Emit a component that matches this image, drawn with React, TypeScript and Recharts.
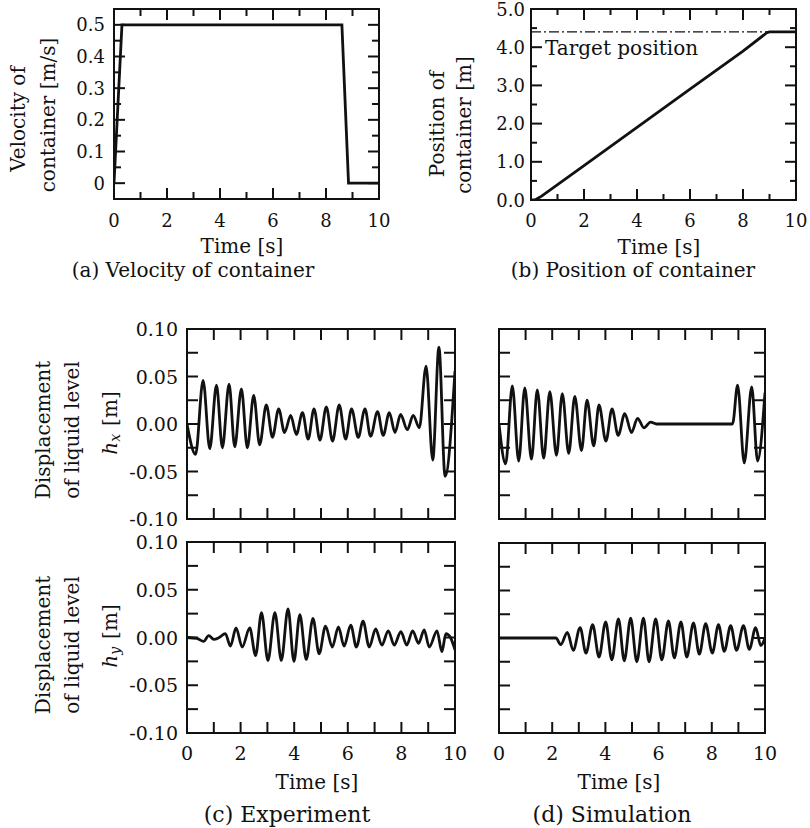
import { LineChart, Line, XAxis, YAxis, ReferenceArea, ReferenceLine } from 'recharts';

// time axis, shared by all six panels
const timeTicks = [0, 1, 2, 3, 4, 5, 6, 7, 8, 9, 10];

// (a) velocity of container [m/s]
const velocityTime = [0, 0.3, 8.6, 8.85, 10];
const velocityValue = [0, 0.5, 0.5, 0, 0];
const velocityTicks = [0, 0.05, 0.1, 0.15, 0.2, 0.25, 0.3, 0.35, 0.4, 0.45, 0.5];

// (b) position of container [m]
const positionTime = [0, 0.15, 0.4, 2, 4, 6, 8, 8.9, 9.0, 10];
const positionValue = [0, 0, 0.1, 0.9, 1.9, 2.9, 3.9, 4.38, 4.4, 4.4];
const targetPosition = 4.4;
const positionTicks = [0, 0.5, 1, 1.5, 2, 2.5, 3, 3.5, 4, 4.5, 5];

// liquid level axis
const levelTicks = [-0.1, -0.075, -0.05, -0.025, 0, 0.025, 0.05, 0.075, 0.1];

// (c) experiment, hx
const hxExpTime = [
  0, 0.32, 0.6, 0.85, 1.1, 1.32, 1.57, 1.78, 2.03, 2.25, 2.49, 2.71, 2.96, 3.19, 3.42, 3.64,
  3.87, 4.08, 4.31, 4.52, 4.74, 4.96, 5.2, 5.43, 5.68, 5.92, 6.14, 6.39, 6.64, 6.85, 7.11,
  7.32, 7.55, 7.76, 7.97, 8.22, 8.44, 8.67, 8.92, 9.17, 9.4, 9.63, 10,
];
const hxExpValue = [
  0, -0.032, 0.046, -0.026, 0.041, -0.025, 0.042, -0.024, 0.037, -0.025, 0.03, -0.022, 0.02,
  -0.014, 0.016, -0.009, 0.009, -0.011, 0.012, -0.016, 0.016, -0.017, 0.018, -0.018, 0.02,
  -0.016, 0.016, -0.014, 0.016, -0.013, 0.013, -0.012, 0.012, -0.009, 0.01, -0.006, 0.009,
  -0.004, 0.061, -0.038, 0.081, -0.055, 0.056,
];

// (c) experiment, hy
const hyExpTime = [
  0, 0.37, 0.62, 0.81, 1.0, 1.2, 1.43, 1.62, 1.83, 2.06, 2.34, 2.56, 2.78, 3.02, 3.28, 3.52,
  3.77, 3.99, 4.21, 4.45, 4.7, 4.93, 5.17, 5.42, 5.65, 5.86, 6.11, 6.32, 6.57, 6.8, 7.04, 7.27,
  7.51, 7.73, 7.98, 8.2, 8.42, 8.64, 8.85, 9.04, 9.33, 9.51, 9.66, 9.83, 10,
];
const hyExpValue = [
  0, -0.001, -0.004, 0.002, -0.002, 0.0, 0.004, -0.009, 0.01, -0.01, 0.01, -0.019, 0.026,
  -0.024, 0.026, -0.024, 0.03, -0.025, 0.024, -0.023, 0.02, -0.017, 0.012, -0.01, 0.011,
  -0.009, 0.013, -0.01, 0.017, -0.01, 0.009, -0.008, 0.007, -0.008, 0.006, -0.008, 0.007,
  -0.006, 0.008, -0.01, 0.007, -0.015, 0.004, 0.0, -0.013,
];

// (d) simulation, hx
const hxSimTime = [
  0, 0.25, 0.5, 0.74, 0.97, 1.22, 1.44, 1.68, 1.91, 2.16, 2.38, 2.62, 2.85, 3.1, 3.31, 3.56,
  3.76, 4.02, 4.25, 4.48, 4.73, 4.98, 5.21, 5.45, 5.7, 5.92, 8.78, 8.97, 9.22, 9.5, 9.72, 10,
];
const hxSimValue = [
  0, -0.042, 0.04, -0.039, 0.038, -0.037, 0.036, -0.036, 0.034, -0.033, 0.032, -0.031, 0.029,
  -0.028, 0.025, -0.023, 0.02, -0.018, 0.016, -0.012, 0.011, -0.009, 0.006, -0.004, 0.002, 0,
  0, 0.041, -0.041, 0.039, -0.039, 0.033,
];

// (d) simulation, hy
const hySimTime = [
  0, 2.14, 2.32, 2.57, 2.79, 3.05, 3.27, 3.52, 3.76, 4.01, 4.24, 4.49, 4.71, 4.95, 5.18, 5.43,
  5.64, 5.89, 6.12, 6.37, 6.59, 6.84, 7.06, 7.31, 7.53, 7.77, 8.02, 8.25, 8.47, 8.71, 8.93,
  9.19, 9.41, 9.65, 9.84, 10,
];
const hySimValue = [
  0, 0, -0.007, 0.006, -0.013, 0.011, -0.016, 0.014, -0.02, 0.017, -0.023, 0.02, -0.024, 0.021,
  -0.025, 0.021, -0.025, 0.02, -0.023, 0.018, -0.021, 0.017, -0.02, 0.016, -0.017, 0.015,
  -0.016, 0.014, -0.014, 0.013, -0.013, 0.013, -0.012, 0.011, -0.008, 0.0,
];

const zip = (t: number[], v: number[]) => t.map((x, i) => ({ t: x, v: v[i] }));

const FONT = '"DejaVu Serif", serif';
const INK = '#111';
const PAD_L = 80;
const PAD_R = 12;
const PAD_T = 14;
const PAD_B = 36;

type Box = { x0: number; y0: number; x1: number; y1: number };

type PanelProps = {
  box: Box;
  rows: { t: number; v: number }[];
  curve: 'linear' | 'monotone';
  yDomain: [number, number];
  yTicks: number[];
  yMajor: (v: number) => boolean;
  yFormat: (v: number) => string;
  showX: boolean;
  showY: boolean;
  majorLen: number;
  minorLen: number;
  xGap: number;
  yGap: number;
  fontSize: number;
  target?: number;
};

function Panel(p: PanelProps) {
  const plotW = p.box.x1 - p.box.x0;
  const plotH = p.box.y1 - p.box.y0;
  const xMajor = (v: number) => Math.round(v) % 2 === 0;

  const xTick = (props: any) => {
    const { x, y, payload } = props;
    const v = payload.value;
    const len = xMajor(v) ? p.majorLen : p.minorLen;
    return (
      <g>
        <line x1={x} x2={x} y1={y} y2={y - len} stroke={INK} strokeWidth={2} />
        <line x1={x} x2={x} y1={y - plotH} y2={y - plotH + len} stroke={INK} strokeWidth={2} />
        {p.showX && xMajor(v) && (
          <text x={x} y={y + p.xGap} textAnchor='middle' dominantBaseline='central'
            fontSize={p.fontSize} fontFamily={FONT} fill={INK}>
            {v}
          </text>
        )}
      </g>
    );
  };

  const yTick = (props: any) => {
    const { x, y, payload } = props;
    const v = payload.value;
    const len = p.yMajor(v) ? p.majorLen : p.minorLen;
    return (
      <g>
        <line x1={x} x2={x + len} y1={y} y2={y} stroke={INK} strokeWidth={2} />
        <line x1={x + plotW} x2={x + plotW - len} y1={y} y2={y} stroke={INK} strokeWidth={2} />
        {p.showY && p.yMajor(v) && (
          <text x={x - p.yGap} y={y} textAnchor='end' dominantBaseline='central'
            fontSize={p.fontSize} fontFamily={FONT} fill={INK}>
            {p.yFormat(v)}
          </text>
        )}
      </g>
    );
  };

  return (
    <div style={{ position: 'absolute', left: p.box.x0 - PAD_L, top: p.box.y0 - PAD_T }}>
      <LineChart
        width={plotW + PAD_L + PAD_R}
        height={plotH + PAD_T + PAD_B}
        data={p.rows}
        margin={{ top: PAD_T, right: PAD_R, bottom: 0, left: 0 }}
      >
        <XAxis dataKey='t' type='number' domain={[0, 10]} ticks={timeTicks} interval={0}
          height={PAD_B} axisLine={false} tickLine={false} tickSize={0} tickMargin={0}
          tick={xTick} allowDataOverflow />
        <YAxis type='number' domain={p.yDomain} ticks={p.yTicks} interval={0}
          width={PAD_L} axisLine={false} tickLine={false} tickSize={0} tickMargin={0}
          tick={yTick} allowDataOverflow />
        {p.target !== undefined && (
          <ReferenceLine y={p.target} stroke={INK} strokeWidth={1.3} strokeDasharray='10 3 2 3' />
        )}
        <Line type={p.curve} dataKey='v' stroke={INK} strokeWidth={2.8} dot={false}
          isAnimationActive={false} />
        <ReferenceArea x1={0} x2={10} y1={p.yDomain[0]} y2={p.yDomain[1]} fill='none'
          fillOpacity={0} stroke={INK} strokeWidth={2} ifOverflow='visible' />
      </LineChart>
    </div>
  );
}

function Txt({ x, y, children, rotate, size = 20, anchor = 'middle' }: any) {
  return (
    <text x={x} y={y} textAnchor={anchor} dominantBaseline='central' fontSize={size}
      fontFamily={FONT} fill={INK} transform={rotate ? `rotate(-90 ${x} ${y})` : undefined}>
      {children}
    </text>
  );
}

function HLabel({ x, y, sub }: { x: number; y: number; sub: string }) {
  return (
    <text x={x} y={y} textAnchor='middle' dominantBaseline='central' fontSize={20}
      fontFamily={FONT} fill={INK} transform={`rotate(-90 ${x} ${y})`}>
      <tspan fontStyle='italic'>h</tspan>
      <tspan fontSize={14} fontStyle='italic' dy={5}>{sub}</tspan>
      <tspan dy={-5} dx={8}>[m]</tspan>
    </text>
  );
}

const fmtLevel = (v: number) => v.toFixed(2);
const levelMajor = (v: number) => Math.abs(Math.round(v * 1000) % 50) === 0;

export default function App() {
  const lower = {
    curve: 'monotone' as const,
    yDomain: [-0.1, 0.1] as [number, number],
    yTicks: levelTicks,
    yFormat: fmtLevel,
    majorLen: 11,
    minorLen: 11,
    xGap: 20,
    yGap: 9,
    fontSize: 19,
  };

  return (
    <div style={{ position: 'absolute', left: 0, top: 0, width: 810, height: 828, background: '#fff' }}>
      <Panel
        box={{ x0: 114, y0: 9, x1: 379, y1: 199 }}
        rows={zip(velocityTime, velocityValue)}
        curve='linear'
        yDomain={[-0.05, 0.55]}
        yTicks={velocityTicks}
        yMajor={(v) => Math.round(v * 100) % 10 === 0}
        yFormat={(v) => (v === 0 ? '0' : v.toFixed(1))}
        showX
        showY
        majorLen={11}
        minorLen={7}
        xGap={21}
        yGap={9}
        fontSize={18}
      />
      <Panel
        box={{ x0: 531, y0: 9, x1: 796, y1: 200 }}
        rows={zip(positionTime, positionValue)}
        curve='linear'
        yDomain={[0, 5]}
        yTicks={positionTicks}
        yMajor={(v) => Math.round(v * 10) % 10 === 0}
        yFormat={(v) => v.toFixed(1)}
        showX
        showY
        majorLen={11}
        minorLen={6}
        xGap={20}
        yGap={6}
        fontSize={18}
        target={targetPosition}
      />
      <Panel box={{ x0: 187, y0: 329, x1: 455, y1: 519 }} rows={zip(hxExpTime, hxExpValue)}
        showX={false} showY {...lower} yMajor={levelMajor} />
      <Panel box={{ x0: 187, y0: 542, x1: 455, y1: 733 }} rows={zip(hyExpTime, hyExpValue)}
        showX showY {...lower} yMajor={levelMajor} />
      <Panel box={{ x0: 499, y0: 329, x1: 765, y1: 519 }} rows={zip(hxSimTime, hxSimValue)}
        showX={false} showY={false} {...lower} yMajor={levelMajor} />
      <Panel box={{ x0: 499, y0: 543, x1: 765, y1: 733 }} rows={zip(hySimTime, hySimValue)}
        showX showY={false} {...lower} yMajor={levelMajor} />

      <svg width={810} height={828} style={{ position: 'absolute', left: 0, top: 0, pointerEvents: 'none' }}>
        <Txt x={18} y={119} rotate>Velocity of</Txt>
        <Txt x={48} y={115} rotate>container [m/s]</Txt>
        <Txt x={242} y={246}>Time [s]</Txt>
        <Txt x={193} y={270}>(a) Velocity of container</Txt>

        <Txt x={437} y={124} rotate>Position of</Txt>
        <Txt x={464} y={125} rotate>container [m]</Txt>
        <Txt x={545} y={48} anchor='start'>Target position</Txt>
        <Txt x={659} y={247}>Time [s]</Txt>
        <Txt x={633} y={270}>(b) Position of container</Txt>

        <Txt x={43} y={430} rotate>Displacement</Txt>
        <Txt x={72} y={430} rotate>of liquid level</Txt>
        <HLabel x={110} y={423} sub='x' />
        <Txt x={43} y={645} rotate>Displacement</Txt>
        <Txt x={72} y={645} rotate>of liquid level</Txt>
        <HLabel x={110} y={636} sub='y' />

        <Txt x={317} y={782}>Time [s]</Txt>
        <Txt x={287} y={814} size={22}>(c) Experiment</Txt>
        <Txt x={619} y={782}>Time [s]</Txt>
        <Txt x={612} y={814} size={22}>(d) Simulation</Txt>
      </svg>
    </div>
  );
}
